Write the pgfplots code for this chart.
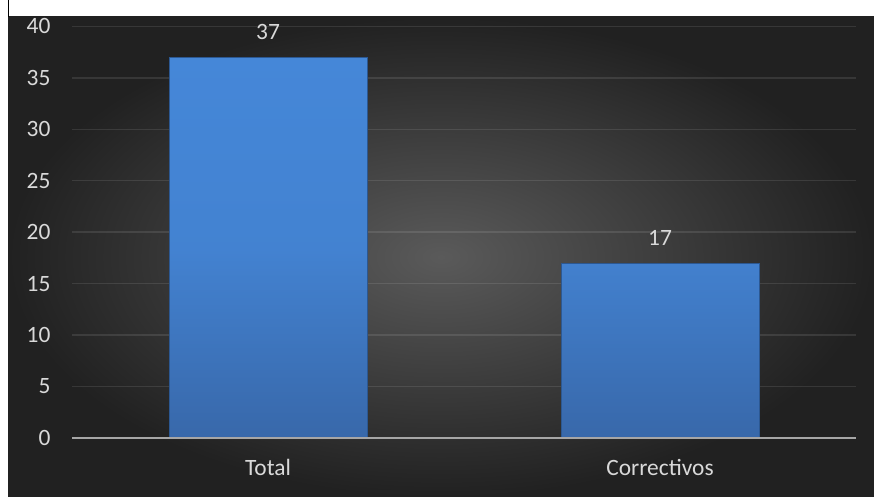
\documentclass[border=0pt]{standalone}
\usepackage{pgfplots}
\pgfplotsset{compat=1.18}
\usepackage{fontspec}
\setmainfont{Carlito}
\definecolor{bgin}{HTML}{5A5A5A}
\definecolor{bgout}{HTML}{212121}
\definecolor{txt}{HTML}{D9D9D9}
\definecolor{bartop}{HTML}{4587D8}
\definecolor{barbot}{HTML}{3868AA}
\definecolor{baredge}{HTML}{2C5892}
\begin{document}
\begin{tikzpicture}
\useasboundingbox (0,0) rectangle (874bp,497bp);
\fill[white] (0,0) rectangle (874bp,497bp);
\shade[inner color=bgin, outer color=bgout, shading=radial] (8bp,0) rectangle (874bp,480bp);
\draw[black, line width=1bp] (8bp,480bp) -- (8bp,497bp);
\begin{axis}[
  scale only axis,
  width=784bp, height=411.6bp,
  at={(72bp,59bp)}, anchor=south west,
  xmin=-0.5, xmax=1.5, ymin=0, ymax=40,
  ytick={0,5,...,40},
  xtick={0,1}, xticklabels={Total,Correctivos},
  axis line style={draw=none},
  axis x line*=bottom,
  axis y line*=left,
  major tick length=0pt,
  ymajorgrids,
  grid style={white, opacity=0.1, line width=1.5bp},
  tick label style={txt, font=\fontsize{23.5}{27}\selectfont},
  yticklabel style={xshift=-18bp},
  xticklabel style={yshift=-18bp},
  /pgf/number format/assume math mode=true,
  ybar, bar width=198bp,
  nodes near coords,
  nodes near coords style={txt, font=\fontsize{23.5}{27}\selectfont, yshift=14bp},
  clip=false,
]
\addplot[draw=baredge, line width=1bp, shading=axis, top color=bartop, bottom color=barbot, middle color=bartop!85!barbot] coordinates {(0,37) (1,17)};
\draw[color=white!65!black, line width=2.5bp] (axis cs:-0.5,0) -- (axis cs:1.5,0);
\end{axis}
\end{tikzpicture}
\end{document}
